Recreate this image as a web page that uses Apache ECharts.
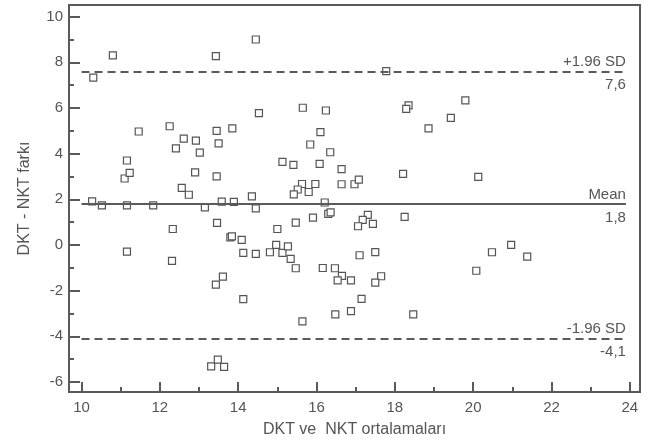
<!DOCTYPE html>
<html>
<head>
<meta charset="utf-8">
<script src="https://cdn.jsdelivr.net/npm/echarts@6/dist/echarts.min.js"></script>
<style>
html,body{margin:0;padding:0;background:#fff;}
#c{width:651px;height:443px;}
</style>
</head>
<body>
<div id="c"></div>
<script>
// Data: [mean of DKT & NKT, difference DKT - NKT]
const xValues = [10.3,10.8,10.27,10.52,11.16,11.83,11.46,11.16,11.1,11.23,11.16,12.25,12.41,12.61,12.92,13.02,12.9,12.56,12.74,13.15,13.43,13.45,13.5,13.45,14.45,14.53,15.65,16.24,18.35,18.29,17.78,13.85,16.1,15.84,16.35,15.13,15.41,16.08,16.64,18.21,15.63,15.52,15.42,15.8,15.97,16.64,16.97,17.08,14.35,13.58,13.89,14.45,16.21,16.3,16.36,15.91,17.31,17.18,18.25,15.47,13.46,19.8,19.43,18.86,20.13,12.33,12.31,13.43,13.31,13.48,13.64,15.0,17.06,17.44,13.8,13.84,14.09,14.13,14.45,14.81,14.97,15.13,15.27,15.34,15.47,16.16,16.47,16.65,16.54,16.88,17.1,17.5,17.65,17.5,13.61,14.13,17.15,16.88,16.48,15.64,18.47,20.08,20.48,20.97,21.38];
const yValues = [7.33,8.3,1.91,1.73,1.73,1.73,4.97,3.7,2.91,3.16,-0.29,5.2,4.23,4.66,4.57,4.04,3.18,2.5,2.2,1.65,8.27,5.0,4.45,3.0,9.0,5.77,6.01,5.89,6.11,5.96,7.61,5.11,4.94,4.4,4.06,3.64,3.51,3.55,3.32,3.11,2.67,2.43,2.22,2.32,2.67,2.66,2.66,2.86,2.13,1.9,1.89,1.6,1.86,1.36,1.43,1.2,1.32,1.1,1.23,0.98,0.97,6.33,5.57,5.11,2.98,0.7,-0.7,-1.74,-5.32,-5.02,-5.34,0.7,0.82,0.92,0.33,0.38,0.22,-0.35,-0.39,-0.32,0.0,-0.35,-0.06,-0.61,-1.02,-1.01,-1.02,-1.35,-1.55,-1.55,-0.45,-0.31,-1.37,-1.65,-1.39,-2.37,-2.36,-2.9,-3.04,-3.35,-3.04,-1.13,-0.32,0.0,-0.51];

// Reference lines
const refValues = [7.6, 1.8, -4.1];
const refNames = ['+1.96 SD', 'Mean', '-1.96 SD'];
const refValueLabels = ['7,6', '1,8', '-4,1'];
const refDashed = [true, false, true];
const refLineStart = 10;
const refLineEnd = 23.9;

// Axis ranges
const xMin = 9.68, xMax = 24.26;
const yMin = -6.44, yMax = 10.51;

const points = xValues.map((x, i) => [x, yValues[i]]);
const axisColor = '#5a5a5a';
const textColor = '#555';
const font = 'Liberation Sans, Arial, sans-serif';

const mlData = [];
refValues.forEach((v, i) => {
  const ls = {color: axisColor, width: 2, type: refDashed[i] ? [8, 5] : 'solid'};
  mlData.push([
    {coord: [refLineStart, v], lineStyle: ls,
     label: {show: true, position: 'insideEndTop', formatter: refNames[i], color: textColor, fontSize: 15, fontFamily: font, distance: [0, 2]}},
    {coord: [refLineEnd, v]}
  ]);
  mlData.push([
    {coord: [refLineStart, v], lineStyle: {color: 'rgba(0,0,0,0)', width: 0},
     label: {show: true, position: 'insideEndBottom', formatter: refValueLabels[i], color: textColor, fontSize: 15, fontFamily: font, distance: [0, 6]}},
    {coord: [refLineEnd, v]}
  ]);
});

const chart = echarts.init(document.getElementById('c'), null, {renderer: 'canvas'});
chart.setOption({
  animation: false,
  backgroundColor: '#ffffff',
  grid: {left: 69, right: 11, top: 5, bottom: 51, show: true, borderColor: axisColor, borderWidth: 2, backgroundColor: 'transparent'},
  xAxis: {
    type: 'value', min: xMin, max: xMax, splitNumber: 7,
    name: 'DKT ve  NKT ortalamaları', nameLocation: 'middle', nameGap: 30,
    nameTextStyle: {color: textColor, fontSize: 16, fontFamily: font},
    axisLine: {show: true, onZero: false, lineStyle: {color: axisColor, width: 2}},
    axisTick: {show: true, inside: true, length: 10, lineStyle: {color: axisColor, width: 2}},
    minorTick: {show: true, splitNumber: 2, length: 5, lineStyle: {color: axisColor, width: 2}},
    axisLabel: {color: textColor, fontSize: 15, fontFamily: font, margin: 8, showMinLabel: false, showMaxLabel: false},
    splitLine: {show: false}
  },
  yAxis: {
    type: 'value', min: yMin, max: yMax, splitNumber: 8,
    name: 'DKT - NKT farkı', nameLocation: 'middle', nameGap: 36,
    nameTextStyle: {color: textColor, fontSize: 16, fontFamily: font},
    axisLine: {show: true, onZero: false, lineStyle: {color: axisColor, width: 2}},
    axisTick: {show: true, inside: true, length: 11, lineStyle: {color: axisColor, width: 2}},
    minorTick: {show: true, splitNumber: 2, length: 5, lineStyle: {color: axisColor, width: 2}},
    axisLabel: {color: textColor, fontSize: 15, fontFamily: font, margin: 6, showMinLabel: false, showMaxLabel: false},
    splitLine: {show: false}
  },
  series: [{
    type: 'scatter',
    data: points,
    symbol: 'rect',
    symbolSize: 7,
    itemStyle: {color: '#ffffff', borderColor: '#555', borderWidth: 1.2, opacity: 1},
    markLine: {
      silent: true, symbol: 'none', animation: false,
      data: mlData
    },
    z: 3
  }]
});
</script>
</body>
</html>
